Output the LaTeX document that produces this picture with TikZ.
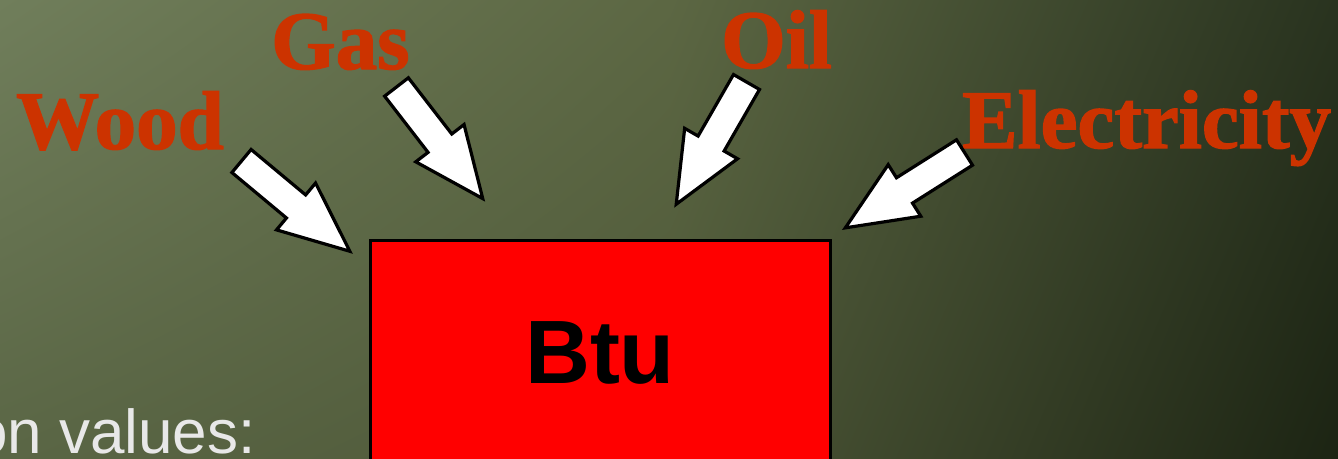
\documentclass[tikz,border=0pt]{standalone}
\usepackage{fontspec}
\usetikzlibrary{shadings}
\setmainfont{Liberation Serif}
\setsansfont{Liberation Sans}
\newfontfamily\fuelfont[FakeBold=1.6]{Liberation Serif}
\definecolor{bgTL}{HTML}{707E5B}
\definecolor{bgBL}{HTML}{5A6645}
\definecolor{bgTM}{HTML}{5C6743}
\definecolor{bgBM}{HTML}{4E5838}
\definecolor{bgTR}{HTML}{29331F}
\definecolor{bgBR}{HTML}{1C2413}
\definecolor{fuel}{HTML}{CC3300}
\definecolor{boxred}{HTML}{FF0000}
\definecolor{note}{HTML}{E8E8E8}
\tikzset{
  fuellabel/.style={anchor=base west, inner sep=0pt, text=fuel,
    font=\fuelfont\fontsize{83}{83}\selectfont\bfseries},
  arrowbody/.style={draw=black, fill=white, line width=3.2pt, line join=miter},
  blockarrow/.pic={
    \path[arrowbody] (0,-15) -- (71,-15) -- (71,-30.5) -- (141,0)
      -- (71,30.5) -- (71,15) -- (0,15) -- cycle;
  },
  unitbox/.style={draw=black, fill=boxred, line width=3pt}
}
\begin{document}
\begin{tikzpicture}[x=1pt, y=-1pt]
  \useasboundingbox (0,0) rectangle (1338,458);
  \clip (0,0) rectangle (1338,458);
  % background
  \shade[upper left=bgTL, lower left=bgBL, upper right=bgTM, lower right=bgBM]
    (0,0) rectangle (670,458);
  \shade[upper left=bgTM, lower left=bgBM, upper right=bgTR, lower right=bgBR]
    (670,0) rectangle (1338,458);
  % fuel labels
  \node[fuellabel] (wood) at (16,149) {Wood};
  \node[fuellabel] (gas) at (271,69) {Gas};
  \node[fuellabel] (oil) at (721,68) {Oil};
  \node[fuellabel] (elec) at (962,148) {Electricity};
  % the unit box
  \draw[unitbox] (370,240) rectangle (830,475);
  \node[anchor=base, inner sep=0pt, font=\sffamily\bfseries\fontsize{90}{90}\selectfont]
    (btu) at (600,383) {Btu};
  % arrows into the box
  \pic (woodarrow) at (241.5,161) [rotate=-39.8] {blockarrow};
  \pic (gasarrow) at (396.5,87) [rotate=-52.3] {blockarrow};
  \pic (oilarrow) at (746.5,82) [rotate=-119.9] {blockarrow};
  \pic (elecarrow) at (964.5,152.5) [rotate=-147.7] {blockarrow};
  % partial caption line
  \node[anchor=base east, inner sep=0pt, text=note,
    font=\sffamily\fontsize{62}{62}\selectfont] (caption) at (256,453) {on values:};
\end{tikzpicture}
\end{document}
